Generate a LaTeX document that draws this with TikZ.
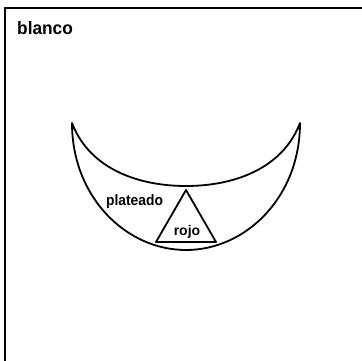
\documentclass[tikz,border=0pt]{standalone}
\usepackage{fontspec}
\setmainfont{Liberation Sans}
\usepackage{graphicx}
\begin{document}
\begin{tikzpicture}[x=1pt,y=-1pt,
  frameline/.style={line width=2.2pt},
  shapeline/.style={line width=1.8pt, line join=round},
  lbl/.style={inner sep=0pt, font=\bfseries}]
\useasboundingbox (0,0) rectangle (362,361);
% frame (only top and left edges visible)
\coordinate (fbl) at (5,361);
\coordinate (ftl) at (5,8);
\coordinate (ftr) at (362,8);
\draw[frameline] (fbl) -- (ftl) -- (ftr);
\node[lbl, anchor=base west, font=\fontsize{18}{20}\selectfont\bfseries] (blanco) at (17,35) {\scalebox{0.96}[1]{blanco}};
% crescent
\coordinate (tipL) at (72,123);
\coordinate (tipR) at (300,123);
\coordinate (inB) at (186,186);
\coordinate (outB) at (186,250);
\draw[shapeline] (tipL) .. controls (90,170) and (140,186) .. (inB)
  .. controls (232,186) and (282,170) .. (tipR)
  .. controls (300,197) and (246,250) .. (outB)
  .. controls (126,250) and (72,197) .. cycle;
% triangle
\coordinate (ta) at (186,190);
\coordinate (tl) at (156,242);
\coordinate (tr) at (216,242);
\draw[shapeline] (ta) -- (tl) -- (tr) -- cycle;
\node[lbl, anchor=base west, font=\fontsize{15}{17}\selectfont\bfseries] (plateado) at (106,205) {\scalebox{0.92}[1]{plateado}};
\node[lbl, anchor=base, font=\fontsize{14}{16}\selectfont\bfseries] (rojo) at (187,235) {rojo};
\end{tikzpicture}
\end{document}
